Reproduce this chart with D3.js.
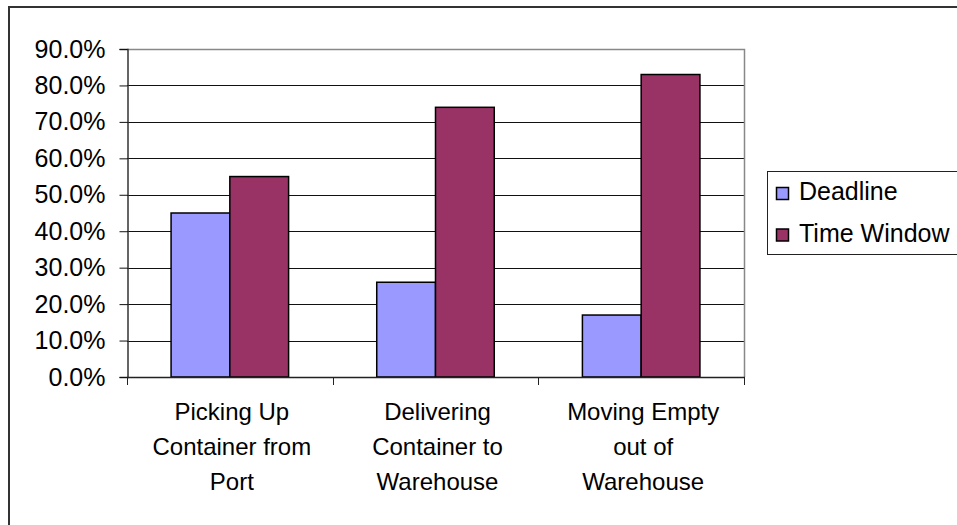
<!DOCTYPE html>
<html>
<head>
<meta charset="utf-8">
<script src="https://cdn.jsdelivr.net/npm/d3@7"></script>
<style>
  html, body { margin: 0; padding: 0; background: #fff; overflow: hidden; }
  svg { display: block; font-family: "Liberation Sans", Arial, sans-serif; }
</style>
</head>
<body>
<svg id="chart" width="957" height="525"></svg>
<script>
// Share of trips per activity, by constraint type
const categories = [
  ["Picking Up", "Container from", "Port"],
  ["Delivering", "Container to", "Warehouse"],
  ["Moving Empty", "out of", "Warehouse"]
];
const seriesNames = ["Deadline", "Time Window"];
const deadline = [0.45, 0.26, 0.17];
const timeWindow = [0.55, 0.74, 0.83];
const yTicks = [0, 0.1, 0.2, 0.3, 0.4, 0.5, 0.6, 0.7, 0.8, 0.9];
const colors = ["#9999FF", "#993366"];

const svg = d3.select("#chart");
const plot = { left: 127, right: 744, top: 49, bottom: 377 };

// outer chart frame (runs off the right and bottom edges)
svg.append("rect")
  .attr("x", 9).attr("y", 7)
  .attr("width", 1000).attr("height", 600)
  .attr("fill", "#fff").attr("stroke", "#333").attr("stroke-width", 2);

const x0 = d3.scaleBand()
  .domain(d3.range(categories.length))
  .range([plot.left, plot.right])
  .paddingInner(0).paddingOuter(0);
const bandW = x0.bandwidth();
const barW = bandW / 3.5;           // gap width 150%
const x1 = d3.scaleBand()
  .domain(d3.range(seriesNames.length))
  .range([bandW * 0.75 / 3.5, bandW * 0.75 / 3.5 + barW * 2]);

const y = d3.scaleLinear().domain([0, 0.9]).range([plot.bottom, plot.top]);

// gridlines
svg.append("g").selectAll("line")
  .data(yTicks.slice(1, -1))
  .join("line")
  .attr("x1", plot.left).attr("x2", plot.right)
  .attr("y1", d => Math.round(y(d)) + 0.5).attr("y2", d => Math.round(y(d)) + 0.5)
  .attr("stroke", "#111").attr("stroke-width", 1);

// plot area border (top and right)
svg.append("path")
  .attr("d", `M${plot.left},${plot.top + 0.5}H${plot.right + 0.5}V${plot.bottom}`)
  .attr("fill", "none").attr("stroke", "#888").attr("stroke-width", 1.5);

// bars
const rows = categories.map((c, i) => [deadline[i], timeWindow[i]]);
const groups = svg.append("g").selectAll("g")
  .data(rows)
  .join("g")
  .attr("transform", (d, i) => `translate(${x0(i)},0)`);
groups.selectAll("rect")
  .data(d => d)
  .join("rect")
  .attr("x", (d, j) => x1(j))
  .attr("width", x1.bandwidth())
  .attr("y", d => y(d))
  .attr("height", d => y(0) - y(d))
  .attr("fill", (d, j) => colors[j])
  .attr("stroke", "#000").attr("stroke-width", 1.5);

// y axis
const yAxis = d3.axisLeft(y)
  .tickValues(yTicks)
  .tickFormat(d3.format(".1%"))
  .tickSize(8)
  .tickPadding(14);
const ya = svg.append("g")
  .attr("transform", `translate(${plot.left + 0.5},0)`)
  .call(yAxis);
ya.select(".domain").attr("stroke", "#333").attr("stroke-width", 1.5);
ya.selectAll(".tick line").attr("stroke", "#111");
ya.selectAll(".tick text")
  .attr("font-size", 25).attr("fill", "#000")
  .attr("font-family", "Liberation Sans, Arial, sans-serif");

// x axis line with category boundary ticks
const xa = svg.append("g");
xa.append("line")
  .attr("x1", plot.left).attr("x2", plot.right + 1)
  .attr("y1", plot.bottom + 0.5).attr("y2", plot.bottom + 0.5)
  .attr("stroke", "#222").attr("stroke-width", 1.5);
const bounds = d3.range(categories.length).map(i => x0(i)).concat([plot.right]);
xa.selectAll("line.tk")
  .data(bounds)
  .join("line").attr("class", "tk")
  .attr("x1", d => Math.round(d) + 0.5).attr("x2", d => Math.round(d) + 0.5)
  .attr("y1", plot.bottom).attr("y2", plot.bottom + 8)
  .attr("stroke", "#222").attr("stroke-width", 1);

// category labels
const lab = svg.append("g").selectAll("text")
  .data(categories)
  .join("text")
  .attr("x", (d, i) => x0(i) + bandW / 2 + 2)
  .attr("y", 420)
  .attr("text-anchor", "middle")
  .attr("font-size", 24)
  .attr("fill", "#000");
lab.selectAll("tspan")
  .data(d => d)
  .join("tspan")
  .attr("x", function() { return d3.select(this.parentNode).attr("x"); })
  .attr("dy", (d, k) => k === 0 ? 0 : 35)
  .text(d => d);

// legend
const lg = svg.append("g");
lg.append("rect")
  .attr("x", 767.5).attr("y", 171.5)
  .attr("width", 400).attr("height", 83)
  .attr("fill", "#fff").attr("stroke", "#222").attr("stroke-width", 1);
const items = lg.selectAll("g.item")
  .data(seriesNames)
  .join("g").attr("class", "item")
  .attr("transform", (d, i) => `translate(0,${i * 41.5})`);
items.append("rect")
  .attr("x", 776.5).attr("y", 187.5)
  .attr("width", 12).attr("height", 12)
  .attr("fill", (d, i) => colors[i])
  .attr("stroke", "#000").attr("stroke-width", 1.5);
items.append("text")
  .attr("x", 799).attr("y", 200)
  .attr("font-size", 25).attr("fill", "#000")
  .text(d => d);
</script>
</body>
</html>
